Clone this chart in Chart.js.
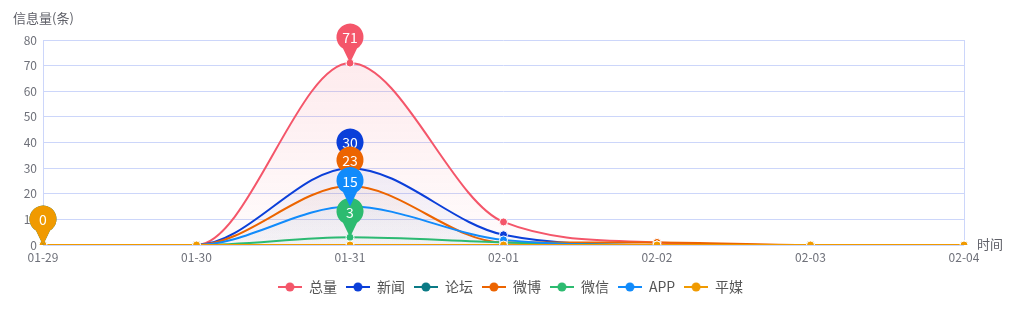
<!DOCTYPE html>
<html>
<head>
<meta charset="utf-8">
<script src="https://cdn.jsdelivr.net/npm/chart.js@4/dist/chart.umd.min.js"></script>
<style>
    html, body { margin: 0; padding: 0; background: #fff; }
    #wrap { width: 1021px; height: 324px; position: relative; }
</style>
</head>
<body>
<div id="wrap"><canvas id="chart"></canvas></div>
<script>
// Data
const dates = ['01-29', '01-30', '01-31', '02-01', '02-02', '02-03', '02-04'];
const seriesNames = ['总量', '新闻', '论坛', '微博', '微信', 'APP', '平媒'];
const seriesColors = ['#f4566a', '#0b3fd9', '#0a7a85', '#ec6400', '#2dbb70', '#118bfb', '#f09a00'];

const totalValues = [0, 0, 71, 9, 1, 0, 0];
const newsValues = [0, 0, 30, 4, 0, 0, 0];
const forumValues = [0, 0, 0, 0, 0, 0, 0];
const weiboValues = [0, 0, 23, 1, 1, 0, 0];
const wechatValues = [0, 0, 3, 1, 0, 0, 0];
const appValues = [0, 0, 15, 2, 0, 0, 0];
const printValues = [0, 0, 0, 0, 0, 0, 0];

const yTicks = [0, 10, 20, 30, 40, 50, 60, 70, 80];

const allValues = [totalValues, newsValues, forumValues, weiboValues, wechatValues, appValues, printValues];

const FONT = '"Noto Sans CJK SC", "Noto Sans", sans-serif';
const gridColor = '#ccd6fa';
const labelColor = '#6e7079';

// Helpers
const hexToRgba = (hex, a) => {
    const n = parseInt(hex.slice(1), 16);
    return `rgba(${(n >> 16) & 255},${(n >> 8) & 255},${n & 255},${a})`;
};

const makeLegendIcon = (color) => {
    const c = document.createElement('canvas');
    c.width = 24;
    c.height = 12;
    const g = c.getContext('2d');
    g.strokeStyle = color;
    g.lineWidth = 2;
    g.beginPath();
    g.moveTo(0, 6);
    g.lineTo(24, 6);
    g.stroke();
    g.fillStyle = color;
    g.beginPath();
    g.arc(12, 6, 4.5, 0, Math.PI * 2);
    g.fill();
    return c;
};

const legendIcons = seriesColors.map(makeLegendIcon);

const areaFill = (color) => (context) => {
    const area = context.chart.chartArea;
    if (!area) return hexToRgba(color, 0.08);
    const grad = context.chart.ctx.createLinearGradient(0, area.top, 0, area.bottom);
    grad.addColorStop(0, hexToRgba(color, 0.13));
    grad.addColorStop(1, hexToRgba(color, 0.02));
    return grad;
};

// Pin markers for max values
const markPointPlugin = {
    id: 'markPoint',
    afterDatasetsDraw(chart) {
        const ctx = chart.ctx;
        chart.data.datasets.forEach((ds, i) => {
            const meta = chart.getDatasetMeta(i);
            if (meta.hidden) return;
            const data = ds.data;
            let maxIdx = 0;
            data.forEach((v, k) => { if (v > data[maxIdx]) maxIdx = k; });
            const pt = meta.data[maxIdx];
            const x = pt.x;
            const tipY = pt.y;
            const r = 13.5;
            const cy = tipY - 26;
            const d = tipY - cy;
            const ang = Math.asin(r / d);
            ctx.save();
            ctx.fillStyle = ds.borderColor;
            ctx.beginPath();
            ctx.moveTo(x, tipY);
            ctx.arc(x, cy, r, Math.PI / 2 + ang, Math.PI / 2 - ang + Math.PI * 2, false);
            ctx.closePath();
            ctx.fill();
            ctx.fillStyle = '#fff';
            ctx.font = '14px ' + FONT;
            ctx.textAlign = 'center';
            ctx.textBaseline = 'middle';
            ctx.fillText(String(data[maxIdx]), x, cy + 1);
            ctx.restore();
        });
    }
};

// Axis names
const axisNamePlugin = {
    id: 'axisNames',
    afterDraw(chart) {
        const ctx = chart.ctx;
        const area = chart.chartArea;
        ctx.save();
        ctx.fillStyle = '#5f6068';
        ctx.font = '13px ' + FONT;
        ctx.textBaseline = 'middle';
        ctx.textAlign = 'left';
        ctx.fillText('信息量(条)', 13, 18);
        ctx.fillText('时间', area.right + 13, area.bottom - 1);
        ctx.restore();
    }
};

const datasets = seriesNames.map((name, i) => ({
    label: name,
    data: allValues[i],
    borderColor: seriesColors[i],
    backgroundColor: areaFill(seriesColors[i]),
    fill: 'origin',
    borderWidth: 2,
    cubicInterpolationMode: 'monotone',
    pointRadius: 4,
    pointBackgroundColor: seriesColors[i],
    pointBorderColor: '#fff',
    pointBorderWidth: 1,
    order: seriesNames.length - i
}));

new Chart(document.getElementById('chart'), {
    type: 'line',
    data: { labels: dates, datasets },
    options: {
        responsive: true,
        maintainAspectRatio: false,
        animation: false,
        layout: { padding: { left: 0, right: 0, top: 40, bottom: 20 } },
        plugins: {
            tooltip: { enabled: false },
            legend: {
                position: 'bottom',
                labels: {
                    usePointStyle: true,
                    pointStyleWidth: 24,
                    padding: 9,
                    color: '#555',
                    font: { family: FONT, size: 14 },
                    generateLabels: (chart) => chart.data.datasets.map((ds, i) => ({
                        text: ds.label,
                        fillStyle: ds.borderColor,
                        strokeStyle: ds.borderColor,
                        fontColor: '#555',
                        pointStyle: legendIcons[i],
                        hidden: !chart.isDatasetVisible(i),
                        datasetIndex: i
                    }))
                }
            }
        },
        scales: {
            x: {
                offset: false,
                afterFit: (scale) => { scale.height = 26; },
                grid: {
                    offset: false,
                    drawTicks: false,
                    color: (c) => (c.index === 0 || c.index === dates.length - 1 ? gridColor : 'rgba(0,0,0,0)')
                },
                border: { display: false },
                ticks: {
                    autoSkip: false,
                    maxRotation: 0,
                    padding: 5,
                    color: labelColor,
                    font: { family: FONT, size: 12 }
                }
            },
            y: {
                min: yTicks[0],
                max: yTicks[yTicks.length - 1],
                afterFit: (scale) => { scale.width = 43; },
                afterBuildTicks: (scale) => { scale.ticks = yTicks.map((v) => ({ value: v })); },
                grid: { color: gridColor, drawTicks: false },
                border: { display: false },
                ticks: {
                    padding: 6,
                    color: labelColor,
                    font: { family: FONT, size: 12 }
                }
            },
            // empty right axis reserving room for the "时间" axis name
            yRight: {
                position: 'right',
                afterFit: (scale) => { scale.width = 57; },
                grid: { display: false },
                border: { display: false },
                ticks: { display: false }
            }
        }
    },
    plugins: [markPointPlugin, axisNamePlugin]
});
</script>
</body>
</html>
